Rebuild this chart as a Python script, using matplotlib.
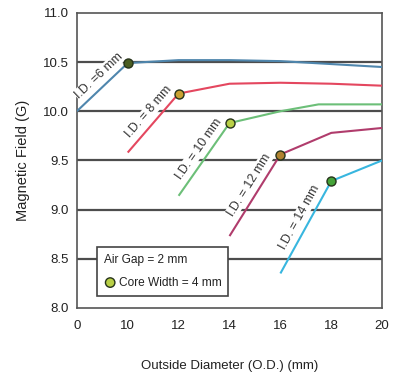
import numpy as np
import matplotlib
matplotlib.use("Agg")
import matplotlib.pyplot as plt
from matplotlib import font_manager
from matplotlib.offsetbox import (AnchoredOffsetbox, TextArea, HPacker,
                                  VPacker, DrawingArea)
from matplotlib.patches import Circle

# ---- data -------------------------------------------------------------
id_labels = ["I.D. =6 mm", "I.D. = 8 mm", "I.D. = 10 mm", "I.D. = 12 mm", "I.D. = 14 mm"]
od_id6 = [8, 10, 12, 14, 16, 18, 20]
field_id6 = [10.00, 10.49, 10.52, 10.52, 10.51, 10.48, 10.45]
od_id8 = [10, 12, 14, 16, 18, 20]
field_id8 = [9.58, 10.18, 10.28, 10.29, 10.28, 10.26]
od_id10 = [12, 14, 16, 17.5, 20]
field_id10 = [9.14, 9.88, 10.00, 10.07, 10.07]
od_id12 = [14, 16, 18, 20]
field_id12 = [8.73, 9.56, 9.78, 9.83]
od_id14 = [16, 18, 20]
field_id14 = [8.35, 9.29, 9.50]
# operating point (core width = 4 mm) for each I.D.
point_od = [10, 12, 14, 16, 18]
point_field = [10.49, 10.18, 9.88, 9.56, 9.29]

x_ticks = [8, 10, 12, 14, 16, 18, 20]
x_tick_labels = ["0", "10", "12", "14", "16", "18", "20"]
y_ticks = [8.0, 8.5, 9.0, 9.5, 10.0, 10.5, 11.0]

# ---- style ------------------------------------------------------------
names = {f.name for f in font_manager.fontManager.ttflist}
fam = ["Liberation Sans Narrow"] if "Liberation Sans Narrow" in names else []
plt.rcParams["font.family"] = fam + ["Liberation Sans", "DejaVu Sans"]

line_colors = ["#4f86ad", "#e4475f", "#6cbf78", "#b03c6c", "#38b6df"]
marker_faces = ["#4b5e22", "#c9a132", "#b9d046", "#b0822f", "#45a338"]
grid_color = "#4d4d4d"
text_color = "#222222"

fig = plt.figure(figsize=(3.94, 3.81), dpi=100)
ax = fig.add_axes([0.195, 0.192, 0.775, 0.774])

ax.set_xlim(8, 20)
ax.set_ylim(8.0, 11.0)
ax.set_xticks(x_ticks)
ax.set_xticklabels(x_tick_labels)
ax.set_yticks(y_ticks)
ax.set_yticklabels([f"{v:.1f}" for v in y_ticks])
ax.tick_params(length=0, labelsize=9.5, colors=text_color)
ax.tick_params(axis="y", pad=6)
ax.tick_params(axis="x", pad=9)

for s in ax.spines.values():
    s.set_color("#555555")
    s.set_linewidth(1.2)

for y in y_ticks[1:-1]:
    ax.axhline(y, color=grid_color, lw=1.6, zorder=1)

series = [(od_id6, field_id6), (od_id8, field_id8), (od_id10, field_id10),
          (od_id12, field_id12), (od_id14, field_id14)]

fig.canvas.draw()
for i, (od, fld) in enumerate(series):
    ax.plot(od, fld, color=line_colors[i], lw=1.5, zorder=3,
            solid_capstyle="butt")
    ax.plot(point_od[i], point_field[i], marker="o", ms=6.5,
            mfc=marker_faces[i], mec="#26331a", mew=1.0, zorder=5)
    # label set along the rising segment, just above it
    p0 = ax.transData.transform((od[0], fld[0]))
    p1 = ax.transData.transform((od[1], fld[1]))
    a = np.arctan2(p1[1] - p0[1], p1[0] - p0[0])
    along, perp = 4.0, 7.5
    dx = along * np.cos(a) - perp * np.sin(a)
    dy = along * np.sin(a) + perp * np.cos(a)
    xm = (od[0] + od[1]) / 2
    ym = (fld[0] + fld[1]) / 2
    ax.annotate(id_labels[i], (xm, ym), xytext=(dx, dy),
                textcoords="offset points", rotation=np.degrees(a),
                rotation_mode="anchor", ha="center", va="center",
                fontsize=9, color="#333333", zorder=4,
                bbox=dict(boxstyle="square,pad=0.05", fc="white", ec="none"))

ax.set_xlabel("Outside Diameter (O.D.) (mm)", fontsize=9.5, labelpad=20,
              color=text_color)
ax.set_ylabel("Magnetic Field (G)", fontsize=10.5, labelpad=9,
              color=text_color)

# note box
da = DrawingArea(9, 9, 0, 0)
da.add_artist(Circle((4.5, 4.5), 3.4, fc="#b9d046", ec="#26331a", lw=1.0))
t1 = TextArea("Air Gap = 2 mm", textprops=dict(fontsize=8.6, color=text_color))
t2 = TextArea("Core Width = 4 mm", textprops=dict(fontsize=8.6, color=text_color))
row2 = HPacker(children=[da, t2], align="center", pad=0, sep=1.5)
box = VPacker(children=[t1, row2], align="left", pad=0, sep=7.5)
anch = AnchoredOffsetbox(loc="lower left", child=box, pad=0.5, borderpad=0,
                         frameon=True, bbox_to_anchor=(0.066, 0.041),
                         bbox_transform=ax.transAxes)
anch.patch.set_edgecolor("#444444")
anch.patch.set_linewidth(1.2)
anch.patch.set_facecolor("white")
anch.set_zorder(6)
ax.add_artist(anch)

fig.savefig("out.png", dpi=100, facecolor="white")
